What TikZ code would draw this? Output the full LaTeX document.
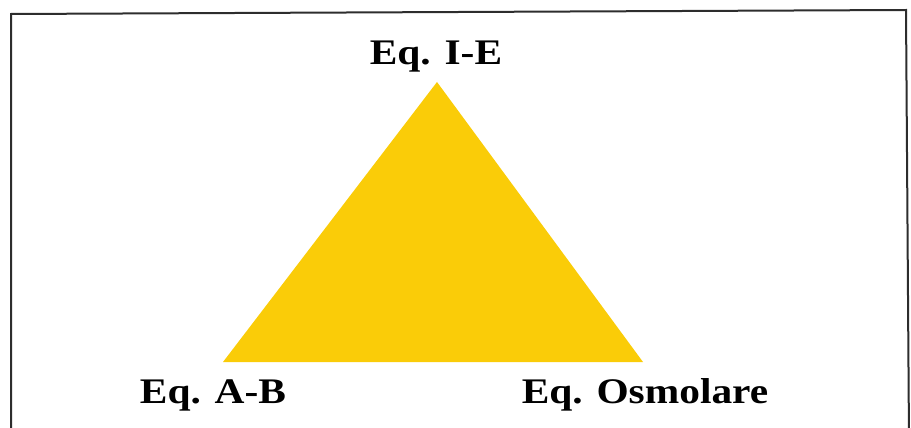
\documentclass[tikz,border=0pt]{standalone}
\usepackage{fontspec}
\setmainfont{Liberation Serif}[FakeStretch=1.15]
\definecolor{triyellow}{RGB}{250,204,8}
\definecolor{framegray}{RGB}{45,45,45}
\begin{document}
\begin{tikzpicture}[x=1pt,y=-1pt,
  label/.style={font=\fontsize{36}{40}\selectfont\bfseries, text=black, anchor=base, inner sep=0pt},
  frame/.style={draw=framegray, line width=2pt}]
\useasboundingbox (0,0) rectangle (911,428);
\begin{scope}
\clip (0,0) rectangle (911,428);
\draw[frame] (11,440) -- (11,14) -- (906,10) -- (909,440);
\end{scope}
\coordinate (top) at (437,82);
\coordinate (bl) at (223,362);
\coordinate (br) at (643,362);
\fill[triyellow] (top) -- (bl) -- (br) -- cycle;
\node[label] (ie) at (436,65) {Eq. I-E};
\node[label] (ab) at (213,403) {Eq. A-B};
\node[label] (osm) at (645,403) {Eq. Osmolare};
\end{tikzpicture}
\end{document}
